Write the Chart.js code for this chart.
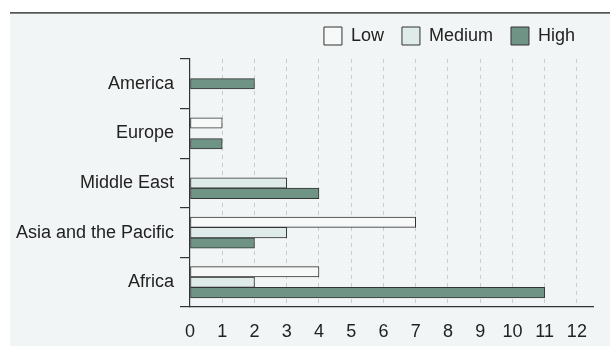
<!DOCTYPE html>
<html>
<head>
<meta charset="utf-8">
<script src="https://cdn.jsdelivr.net/npm/chart.js@4"></script>
<style>
  html, body { margin: 0; padding: 0; background: #fff; }
  #wrap { width: 610px; height: 346px; }
</style>
</head>
<body>
<div id="wrap"><canvas id="chart" width="610" height="346"></canvas></div>
<script>
const regions = ['America', 'Europe', 'Middle East', 'Asia and the Pacific', 'Africa'];
const lowValues = [null, 1, 0, 7, 4];
const mediumValues = [null, 0, 3, 3, 2];
const highValues = [2, 1, 4, 2, 11];
const xTicks = [0, 1, 2, 3, 4, 5, 6, 7, 8, 9, 10, 11, 12];

const textColor = '#222';
const fontFamily = '"Liberation Sans", Arial, sans-serif';

// grey panel with a dark rule on top, drawn behind the chart
const panelBackground = {
    id: 'panelBackground',
    afterLayout(chart) {
        // lift the legend a little, leaving the plot where it is
        chart.legend.top -= 4;
        chart.legend.bottom -= 4;
    },
    beforeDraw(chart) {
        const ctx = chart.ctx;
        ctx.save();
        ctx.fillStyle = '#ffffff';
        ctx.fillRect(0, 0, chart.width, chart.height);
        ctx.fillStyle = '#f2f5f5';
        ctx.fillRect(10, 13, chart.width - 10, chart.height - 13);
        ctx.fillStyle = '#555';
        ctx.fillRect(10, 12, chart.width - 10, 1.7);
        ctx.restore();
    }
};

function makeDataset(label, values, fill) {
    return {
        label: label,
        data: values,
        backgroundColor: fill,
        borderColor: '#333',
        borderWidth: 1,
        borderSkipped: false,
        barThickness: 10.4,
        skipNull: true
    };
}

new Chart(document.getElementById('chart'), {
    type: 'bar',
    data: {
        labels: regions,
        datasets: [
            makeDataset('Low', lowValues, '#f6f9f8'),
            makeDataset('Medium', mediumValues, '#dfebe8'),
            makeDataset('High', highValues, '#6f9485')
        ]
    },
    options: {
        indexAxis: 'y',
        responsive: false,
        animation: false,
        layout: {
            padding: { left: 10, right: 17, top: 13, bottom: 1 }
        },
        scales: {
            x: {
                min: 0,
                max: 12.5,
                afterBuildTicks: (scale) => {
                    scale.ticks = xTicks.map(v => ({ value: v }));
                },
                afterFit: (scale) => { scale.height = 38; },
                ticks: {
                    padding: 14,
                    maxRotation: 0,
                    minRotation: 0,
                    color: textColor,
                    font: { family: fontFamily, size: 18 }
                },
                grid: {
                    color: (ctx) => ctx.tick && ctx.tick.value === 0 ? 'rgba(0,0,0,0)' : '#c8cccc',
                    drawTicks: false
                },
                border: {
                    display: true,
                    color: '#333',
                    width: 1.2,
                    dash: [4, 4]
                }
            },
            y: {
                afterFit: (scale) => { scale.width = 180; },
                ticks: {
                    padding: 6,
                    color: textColor,
                    font: { family: fontFamily, size: 18 }
                },
                grid: {
                    offset: true,
                    drawOnChartArea: false,
                    drawTicks: true,
                    tickLength: 10,
                    color: '#333',
                    lineWidth: 1.2
                },
                border: {
                    color: '#333',
                    width: 1.2
                }
            }
        },
        plugins: {
            legend: {
                position: 'top',
                align: 'end',
                labels: {
                    boxWidth: 18,
                    boxHeight: 18,
                    padding: 18,
                    color: textColor,
                    font: { family: fontFamily, size: 18 }
                }
            },
            tooltip: { enabled: false }
        }
    },
    plugins: [panelBackground]
});
</script>
</body>
</html>
